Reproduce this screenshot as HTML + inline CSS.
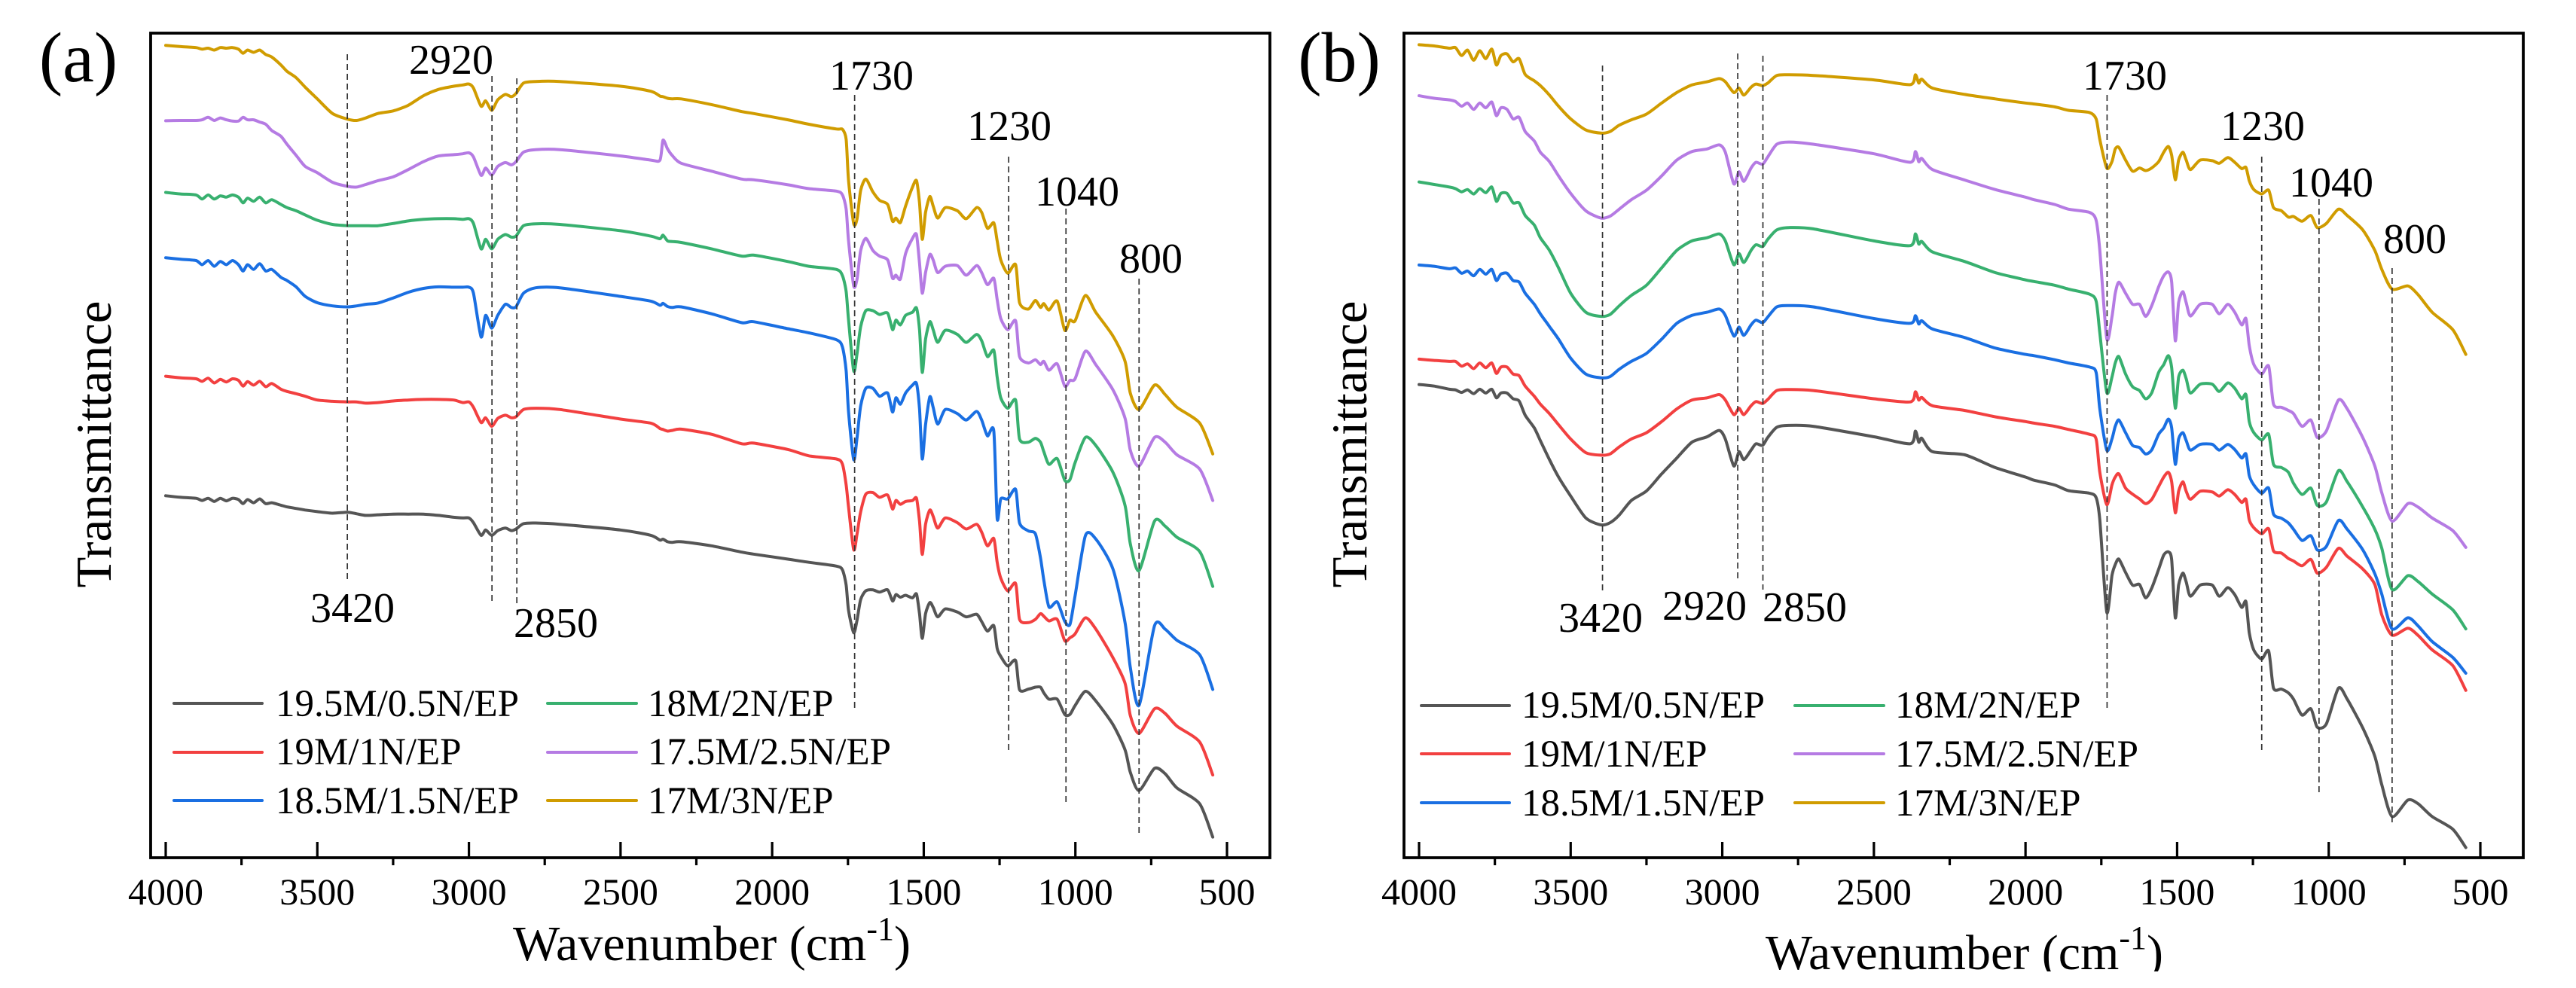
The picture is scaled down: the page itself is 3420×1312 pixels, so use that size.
<!DOCTYPE html>
<html lang="en">
<head>
<meta charset="utf-8">
<title>FTIR spectra of M/N/EP composites</title>
<style>
html,body{margin:0;padding:0;background:#fff;}
svg{display:block;font-family:"Liberation Serif",serif;fill:#000;}
.frame{fill:none;stroke:#000;stroke-width:3.8;}
.tick{stroke:#000;stroke-width:3.2;}
.ref{stroke:#333;stroke-width:1.7;stroke-dasharray:8 5;fill:none;}
.spec{fill:none;stroke-width:4;stroke-linejoin:round;stroke-linecap:round;}
.handle{stroke-width:4;stroke-linecap:round;fill:none;}
.c0{stroke:#555555;}.c1{stroke:#f24040;}.c2{stroke:#1a6fe2;}.c3{stroke:#38b06f;}.c4{stroke:#b57be3;}.c5{stroke:#d09c00;}
.tl{font-size:50px;text-anchor:middle;}
.ann{font-size:56px;text-anchor:middle;}
.leg{font-size:51px;}
.axt{font-size:66px;text-anchor:middle;}
.yt{font-size:67px;text-anchor:middle;}
.pl{font-size:94px;text-anchor:middle;}
</style>
</head>
<body>
<svg id="figure" xmlns="http://www.w3.org/2000/svg" width="3420" height="1312" viewBox="0 0 3420 1312">
  <rect x="0" y="0" width="3420" height="1312" fill="#fff"/>

  <g id="panelA">
    <text class="pl" x="104" y="108">(a)</text>
    <text class="yt" transform="translate(147 590) rotate(-90)">Transmittance</text>
    <text class="axt" x="945" y="1275">Wavenumber (cm<tspan font-size="44" dy="-27">-1</tspan><tspan dy="27">)</tspan></text>
    <rect class="frame" x="200" y="44" width="1486" height="1095"/>
    <text class="ann" x="599" y="98">2920</text>
    <text class="ann" x="1157" y="119">1730</text>
    <text class="ann" x="1340" y="186">1230</text>
    <text class="ann" x="1430" y="273">1040</text>
    <text class="ann" x="1528" y="362">800</text>
    <text class="ann" x="468" y="826">3420</text>
    <text class="ann" x="738" y="846">2850</text>
    <g>
      <line class="handle c0" x1="231" y1="934" x2="348" y2="934"/>
      <text class="leg" x="366" y="951">19.5M/0.5N/EP</text>
      <line class="handle c1" x1="231" y1="999" x2="348" y2="999"/>
      <text class="leg" x="366" y="1015">19M/1N/EP</text>
      <line class="handle c2" x1="231" y1="1063" x2="348" y2="1063"/>
      <text class="leg" x="366" y="1080">18.5M/1.5N/EP</text>
      <line class="handle c3" x1="727" y1="934" x2="845" y2="934"/>
      <text class="leg" x="860" y="951">18M/2N/EP</text>
      <line class="handle c4" x1="727" y1="999" x2="845" y2="999"/>
      <text class="leg" x="860" y="1015">17.5M/2.5N/EP</text>
      <line class="handle c5" x1="727" y1="1063" x2="845" y2="1063"/>
      <text class="leg" x="860" y="1080">17M/3N/EP</text>
    </g>
  </g>

  <g id="panelB">
    <text class="pl" x="1778" y="108">(b)</text>
    <text class="yt" transform="translate(1814 590) rotate(-90)">Transmittance</text>
    <text class="axt" x="2608" y="1287">Wavenumber (cm<tspan font-size="44" dy="-27">-1</tspan><tspan dy="27">)</tspan></text>
    <rect class="frame" x="1864" y="44" width="1486" height="1095"/>
    <text class="ann" x="2125" y="839">3420</text>
    <text class="ann" x="2263" y="823">2920</text>
    <text class="ann" x="2396" y="825">2850</text>
    <text class="ann" x="2821" y="119">1730</text>
    <text class="ann" x="3004" y="186">1230</text>
    <text class="ann" x="3095" y="261">1040</text>
    <text class="ann" x="3206" y="336">800</text>
    <g>
      <line class="handle c0" x1="1887" y1="937" x2="2004" y2="937"/>
      <text class="leg" x="2020" y="953">19.5M/0.5N/EP</text>
      <line class="handle c1" x1="1887" y1="1001" x2="2004" y2="1001"/>
      <text class="leg" x="2020" y="1018">19M/1N/EP</text>
      <line class="handle c2" x1="1887" y1="1066" x2="2004" y2="1066"/>
      <text class="leg" x="2020" y="1083">18.5M/1.5N/EP</text>
      <line class="handle c3" x1="2383" y1="937" x2="2501" y2="937"/>
      <text class="leg" x="2516" y="953">18M/2N/EP</text>
      <line class="handle c4" x1="2383" y1="1001" x2="2501" y2="1001"/>
      <text class="leg" x="2516" y="1018">17.5M/2.5N/EP</text>
      <line class="handle c5" x1="2383" y1="1066" x2="2501" y2="1066"/>
      <text class="leg" x="2516" y="1083">17M/3N/EP</text>
    </g>
  </g>
  <rect id="bottomMask" x="0" y="1290" width="3420" height="22" fill="#fff"/>
</svg>

<script>
// Axis tick values (cm-1)
const majorTickValues = [4000, 3500, 3000, 2500, 2000, 1500, 1000, 500];
const minorTickValues = [3750, 3250, 2750, 2250, 1750, 1250, 750];

// Peak guide-line wavenumbers as drawn in each panel
const guideValuesA = [3401, 2924, 2842, 1728, 1220, 1031, 790];
const guideValuesB = [3395, 2949, 2866, 1731, 1221, 1032, 791];

// Panel (a): wavenumbers and stacked transmittance curves.
// The y axis has no ticks. Values are arbitrary offset units that grow downward on the page.
const wavenumbersA = [4000,3950,3900,3880,3860,3840,3820,3800,3780,3760,3745,3730,3710,3690,3670,3650,3620,3600,3570,3540,3500,3450,3400,3370,3340,3300,3250,3200,3150,3100,3050,3020,3000,2985,2960,2945,2925,2905,2880,2860,2845,2820,2780,2700,2500,2400,2370,2360,2345,2330,2300,2200,2100,
2062,1948,1879,1788,1768,1756,1748,1731,1720,1708,1691,1668,1646,1619,1603,1592,1577,1560,1537,1524,1514,1505,1494,1480,1469,1454,1429,1389,1360,1326,1309,1290,1269,1258,1246,1223,1197,1184,1155,1132,1115,1104,1087,1060,1035,1018,1001,967,933,876,836,819,790,739,704,665,590,547];

const a_19_5M = [1564,1569,1572,1579,1572,1582,1572,1580,1572,1576,1589,1576,1586,1574,1589,1586,1594,1599,1604,1609,1614,1619,1616,1621,1626,1624,1622,1622,1622,1626,1632,1634,1634,1649,1689,1672,1689,1674,1666,1674,1669,1652,1650,1654,1672,1689,1704,1701,1709,1711,1709,1722,1742,
1748,1764,1774,1786,1798,1846,1926,1996,1956,1891,1864,1861,1868,1861,1896,1876,1884,1878,1886,1874,1936,2014,1936,1901,1916,1946,1921,1931,1946,1938,1961,1991,1974,2046,2071,2101,2084,2176,2174,2168,2168,2186,2206,2206,2254,2254,2226,2181,2211,2286,2366,2436,2494,2424,2441,2486,2536,2641];

const a_19M = [1187,1192,1195,1203,1193,1208,1197,1205,1195,1200,1218,1204,1215,1203,1220,1210,1228,1235,1242,1250,1262,1266,1268,1268,1272,1270,1265,1262,1260,1260,1262,1270,1268,1285,1333,1318,1345,1320,1310,1318,1315,1292,1288,1292,1322,1335,1352,1355,1360,1358,1354,1370,1400,
1398,1418,1438,1448,1465,1530,1600,1734,1684,1614,1559,1554,1569,1562,1606,1579,1591,1582,1579,1572,1644,1749,1654,1609,1629,1666,1634,1649,1669,1654,1679,1722,1699,1774,1824,1864,1841,1954,1964,1954,1936,1944,1959,1954,2021,2012,2000,1949,1984,2075,2156,2257,2314,2236,2251,2291,2341,2445];

const a_18_5M = [813,818,822,835,822,840,825,835,822,835,855,835,850,832,855,850,875,885,905,935,955,965,968,965,960,956,940,922,910,905,906,906,906,925,1063,995,1035,995,960,970,968,925,908,908,935,950,963,957,967,970,968,990,1018,
1015,1037,1050,1072,1095,1170,1300,1450,1380,1280,1225,1225,1250,1240,1300,1255,1275,1240,1215,1210,1290,1448,1340,1252,1285,1338,1292,1305,1325,1298,1325,1375,1360,1636,1574,1574,1544,1650,1675,1684,1760,1830,1915,1899,1960,1970,1880,1690,1700,1795,1965,2105,2225,1974,1985,2020,2066,2175];

const a_18M = [607,612,615,628,615,628,618,622,615,622,640,625,635,622,640,630,645,655,665,678,695,708,712,712,712,712,705,697,692,690,690,692,690,705,785,755,785,755,740,748,745,712,706,708,728,745,753,742,760,762,765,785,808,
805,825,840,850,870,920,1010,1170,1115,1030,980,980,992,988,1040,1010,1025,995,985,972,1040,1175,1070,1015,1040,1080,1042,1055,1080,1055,1075,1125,1105,1190,1255,1288,1262,1385,1395,1383,1395,1425,1465,1447,1515,1513,1460,1380,1405,1490,1595,1715,1800,1644,1660,1695,1740,1850];

const a_17_5M = [381,380,380,378,370,380,372,378,382,382,370,378,378,385,392,412,430,455,490,525,545,575,588,590,582,570,558,535,510,492,488,485,482,495,553,530,552,525,513,520,510,480,472,472,492,505,505,442,470,490,515,540,565,
567,583,595,603,615,660,760,902,880,790,752,790,808,820,878,868,880,800,752,740,830,925,860,803,820,860,840,838,868,838,860,898,878,945,1005,1040,1012,1125,1145,1135,1150,1140,1168,1148,1218,1200,1195,1108,1150,1230,1320,1420,1470,1380,1395,1435,1480,1579];

const a_17M = [143,147,150,155,152,158,150,152,150,155,168,158,165,158,172,180,205,225,245,275,312,358,376,380,372,358,350,332,302,282,272,268,265,278,335,318,348,315,298,305,295,262,257,257,272,288,303,305,310,312,312,330,352,
358,378,392,407,408,440,570,705,690,600,565,605,632,645,698,688,702,650,590,570,640,755,670,620,650,688,655,665,690,655,670,720,703,760,820,862,835,955,975,948,970,958,978,950,1042,1010,1012,932,985,1060,1140,1240,1292,1215,1245,1285,1335,1432];

// Panel (b)
const wavenumbersB = [4000,3950,3900,3880,3860,3840,3820,3800,3780,3760,3745,3730,3710,3690,3670,3650,3620,3600,3570,3540,3500,3450,3400,3370,3340,3300,3250,3200,3150,3100,3050,3010,2990,2962,2945,2929,2905,2889,2867,2850,2820,2780,2700,2500,2380,2363,2352,2342,2307,2200,2100,2000,
1972,1904,1858,1789,1767,1755,1732,1715,1704,1692,1670,1647,1624,1604,1584,1561,1544,1529,1518,1506,1495,1481,1470,1456,1424,1384,1361,1333,1310,1287,1273,1262,1247,1221,1198,1182,1156,1133,1116,1088,1059,1038,1008,968,939,888,848,825,791,739,705,659,591,548];

const b_19_5M = [1213,1218,1228,1230,1238,1230,1242,1228,1240,1228,1255,1240,1240,1258,1265,1310,1350,1390,1450,1505,1565,1634,1656,1649,1625,1579,1549,1495,1445,1395,1378,1358,1385,1470,1425,1450,1420,1400,1405,1380,1348,1342,1345,1378,1400,1360,1395,1383,1425,1435,1475,1505,
1515,1530,1548,1556,1570,1640,1931,1816,1781,1764,1806,1846,1844,1886,1856,1796,1751,1741,1766,1949,1846,1808,1836,1881,1846,1846,1881,1854,1876,1916,1898,1996,2051,2079,2054,2171,2174,2186,2206,2256,2236,2294,2284,2171,2206,2296,2386,2476,2576,2524,2536,2576,2616,2674];

const b_19M = [1133,1137,1140,1140,1155,1148,1163,1145,1160,1145,1178,1158,1158,1180,1185,1218,1250,1275,1305,1340,1385,1428,1436,1432,1410,1385,1365,1330,1290,1262,1255,1245,1262,1308,1288,1308,1280,1267,1273,1260,1232,1229,1232,1258,1268,1236,1262,1254,1280,1295,1315,1330,
1335,1345,1355,1370,1385,1490,1592,1530,1505,1495,1540,1559,1574,1589,1576,1535,1505,1490,1520,1618,1550,1520,1550,1575,1550,1552,1565,1545,1560,1585,1575,1640,1665,1684,1668,1738,1745,1762,1770,1785,1765,1808,1790,1730,1755,1795,1844,1940,2004,1982,2005,2050,2100,2178];

const b_18_5M = [836,840,848,845,862,855,870,850,865,850,885,865,862,885,890,925,960,990,1030,1070,1130,1180,1192,1188,1165,1140,1115,1070,1020,995,985,975,995,1060,1032,1058,1025,1010,1018,1000,968,964,968,1005,1020,996,1022,1012,1038,1065,1098,1118,
1122,1135,1145,1158,1175,1290,1420,1385,1345,1325,1365,1405,1412,1432,1420,1370,1350,1322,1350,1465,1385,1365,1390,1420,1402,1402,1420,1402,1418,1445,1432,1500,1530,1556,1540,1622,1635,1650,1670,1705,1690,1735,1724,1642,1670,1734,1810,1875,1984,1949,1975,2024,2074,2124];

const b_18M = [574,582,590,595,605,598,612,595,608,590,635,610,610,640,640,680,710,750,790,845,925,985,998,992,965,932,900,845,790,760,750,738,760,835,800,828,790,772,778,755,725,718,722,760,775,738,770,762,795,825,860,883,
888,900,912,928,950,1050,1238,1190,1145,1125,1180,1220,1232,1258,1240,1175,1150,1122,1160,1288,1190,1168,1195,1240,1212,1212,1235,1208,1225,1258,1245,1330,1365,1388,1370,1465,1475,1490,1525,1560,1540,1594,1584,1485,1520,1599,1670,1730,1860,1816,1835,1874,1924,1984];

const b_17_5M = [302,310,315,320,335,325,345,325,340,322,365,340,345,375,370,415,445,480,510,555,610,665,688,682,660,630,600,555,505,478,470,457,480,580,542,572,530,512,518,495,455,448,455,485,512,478,510,500,535,568,598,622,
630,645,660,670,695,790,1068,1000,925,890,925,960,960,998,965,905,870,858,890,1075,955,920,955,997,960,960,990,960,985,1025,1005,1090,1150,1180,1155,1275,1285,1295,1305,1345,1325,1380,1360,1262,1290,1380,1470,1555,1644,1589,1600,1634,1674,1727];

const b_17M = [141,145,152,150,175,158,190,160,185,155,205,175,170,195,185,235,255,270,300,335,375,410,420,415,395,378,360,325,292,268,258,248,258,292,278,300,275,265,270,262,238,236,238,252,267,236,262,250,278,298,312,325,
328,337,348,355,375,440,530,510,470,465,505,540,530,538,530,510,480,462,490,567,505,480,505,535,505,507,515,497,512,532,528,570,598,612,600,655,665,685,683,698,680,718,705,660,680,725,790,850,912,902,930,985,1040,1118];

const seriesNames = ['19.5m-0.5n-ep','19m-1n-ep','18.5m-1.5n-ep','18m-2n-ep','17.5m-2.5n-ep','17m-3n-ep'];
const seriesA = [a_19_5M, a_19M, a_18_5M, a_18M, a_17_5M, a_17M];
const seriesB = [b_19_5M, b_19M, b_18_5M, b_18M, b_17_5M, b_17M];

const NS = 'http://www.w3.org/2000/svg';
const plotTop = 44, plotBottom = 1139;
const yDomainTop = 104.5, yDomainBottom = 2602 + 104;

function yScale(v){
  return plotTop + (v - yDomainTop) * (plotBottom - plotTop) / (yDomainBottom - yDomainTop);
}
function makeXScale(px4000, px500){
  return function(w){ return px4000 + (4000 - w) * (px500 - px4000) / 3500; };
}
function shape(parent, tag, cls){
  const el = document.createElementNS(NS, tag);
  if (cls) el.setAttribute('class', cls);
  parent.appendChild(el);
  return el;
}
function drawAxis(parent, xScale){
  majorTickValues.forEach(function(w){
    const t = shape(parent, 'line', 'tick');
    
    
    t.setAttribute('x1', xScale(w)); t.setAttribute('x2', xScale(w));
    t.setAttribute('y1', plotBottom - 21); t.setAttribute('y2', plotBottom);
    const l = shape(parent, 'text', 'tl');
    
    
    l.setAttribute('x', xScale(w)); l.setAttribute('y', 1201);
    l.textContent = w;
  });
  minorTickValues.forEach(function(w){
    const t = shape(parent, 'line', 'tick');
    
    
    t.setAttribute('x1', xScale(w)); t.setAttribute('x2', xScale(w));
    t.setAttribute('y1', plotBottom); t.setAttribute('y2', plotBottom + 10);
  });
}
function smoothPath(pts){
  let d = 'M' + pts[0][0].toFixed(1) + ' ' + pts[0][1].toFixed(1);
  for (let i = 0; i < pts.length - 1; i++){
    const p0 = pts[Math.max(i - 1, 0)], p1 = pts[i], p2 = pts[i + 1], p3 = pts[Math.min(i + 2, pts.length - 1)];
    const c1x = p1[0] + (p2[0] - p0[0]) / 8, c1y = p1[1] + (p2[1] - p0[1]) / 8;
    const c2x = p2[0] - (p3[0] - p1[0]) / 8, c2y = p2[1] - (p3[1] - p1[1]) / 8;
    d += 'C' + c1x.toFixed(1) + ' ' + c1y.toFixed(1) + ' ' + c2x.toFixed(1) + ' ' + c2y.toFixed(1) + ' ' + p2[0].toFixed(1) + ' ' + p2[1].toFixed(1);
  }
  return d;
}
function drawSeries(parent, xScale, waves, seriesList){
  seriesList.forEach(function(values, i){
    const pts = waves.map(function(w, k){ return [xScale(w), yScale(values[k])]; });
    const p = shape(parent, 'path', 'spec c' + i);
    
    
    p.setAttribute('d', smoothPath(pts));
  });
}
function drawGuide(parent, xScale, w, y1, y2){
  const g = shape(parent, 'line', 'ref');
  
  
  g.setAttribute('x1', xScale(w)); g.setAttribute('x2', xScale(w));
  g.setAttribute('y1', y1); g.setAttribute('y2', y2);
}

const xA = makeXScale(220, 1629);
const xB = makeXScale(1884, 3293);
const panelA = document.getElementById('panelA');
const panelB = document.getElementById('panelB');

drawAxis(panelA, xA);
drawSeries(panelA, xA, wavenumbersA, seriesA);
drawGuide(panelA, xA, guideValuesA[0], 72, 770);
drawGuide(panelA, xA, guideValuesA[1], 101, 799);
drawGuide(panelA, xA, guideValuesA[2], 104, 802);
drawGuide(panelA, xA, guideValuesA[3], 126, 945);
drawGuide(panelA, xA, guideValuesA[4], 208, 1000);
drawGuide(panelA, xA, guideValuesA[5], 277, 1070);
drawGuide(panelA, xA, guideValuesA[6], 370, 1108);

drawAxis(panelB, xB);
drawSeries(panelB, xB, wavenumbersB, seriesB);
drawGuide(panelB, xB, guideValuesB[0], 87, 785);
drawGuide(panelB, xB, guideValuesB[1], 71, 770);
drawGuide(panelB, xB, guideValuesB[2], 74, 783);
drawGuide(panelB, xB, guideValuesB[3], 126, 945);
drawGuide(panelB, xB, guideValuesB[4], 208, 1000);
drawGuide(panelB, xB, guideValuesB[5], 264, 1057);
drawGuide(panelB, xB, guideValuesB[6], 356, 1093);
</script>
</body>
</html>
